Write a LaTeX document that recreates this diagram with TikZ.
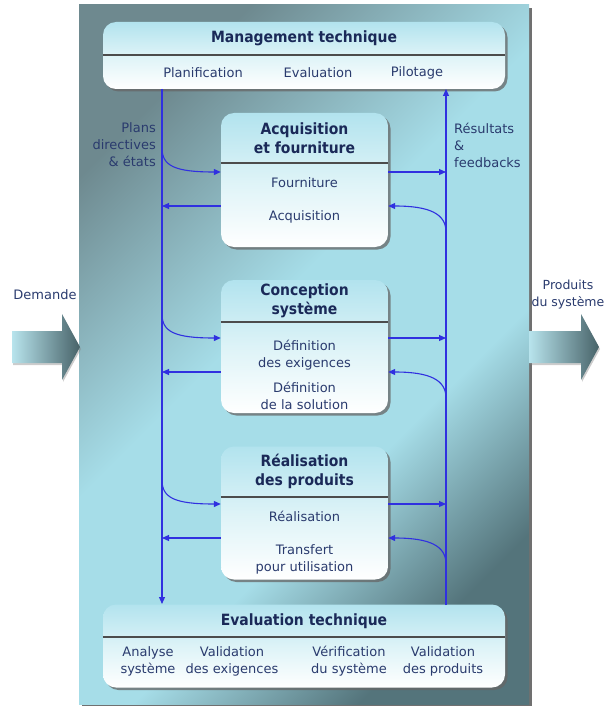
\documentclass[tikz,border=0pt]{standalone}
\usepackage{fontspec}
\setmainfont{DejaVu Sans}
\newfontfamily\condfont{DejaVu Sans Condensed}
\usetikzlibrary{arrows.meta,shadows}

\definecolor{paneldark}{HTML}{54747B}
\definecolor{panellight}{HTML}{A6DDE8}
\definecolor{boxtop}{HTML}{B2E3EE}
\definecolor{boxmid}{HTML}{DDF3F7}
\definecolor{navy}{HTML}{1A2958}
\definecolor{textblue}{HTML}{2A3B6E}
\definecolor{flowblue}{HTML}{3030E0}

\pgfdeclareverticalshading{panelshade}{100bp}{color(0bp)=(paneldark);
  color(25bp)=(paneldark); color(39bp)=(panellight); color(55bp)=(panellight);
  color(75bp)=(paneldark!85!white); color(100bp)=(paneldark!85!white)}

\tikzset{
  panel/.style={draw=none, inner sep=0pt, shading=panelshade, shading angle=45,
    drop shadow={shadow xshift=3pt, shadow yshift=-3pt, fill=black!70, opacity=.8}},
  box/.style={rounded corners=13pt, inner sep=0pt, top color=boxtop, bottom color=white,
    middle color=boxmid,
    drop shadow={shadow xshift=2.5pt, shadow yshift=-2.5pt, fill=black!60, opacity=.75}},
  title/.style={font=\condfont\bfseries\fontsize{15.5}{19}\selectfont, text=navy,
    align=center, inner sep=0pt},
  item/.style={font=\fontsize{13}{17}\selectfont, text=textblue, align=center, inner sep=0pt},
  flow/.style={draw=flowblue, line width=1.1pt, -{Triangle[length=7pt,width=6pt]}},
  rule/.style={draw=black!70, line width=1.3pt},
  bigarrow/.style={left color=panellight!80!white, right color=paneldark!85!black,
    drop shadow={shadow xshift=1pt, shadow yshift=-2pt, fill=black!50, opacity=.4}}
}

\begin{document}
\begin{tikzpicture}[x=1pt,y=-1pt]
  \useasboundingbox (0,0) rectangle (609,706);

  % background panel
  \node[panel, minimum width=450pt, minimum height=699pt] (panel) at (304,354.5) {};

  % in and out
  \path[bigarrow] (12,331) -- (62,331) -- (62,314) -- (80,347) -- (62,380)
    -- (62,363) -- (12,363) -- cycle;
  \path[bigarrow] (529,331) -- (581,331) -- (581,314) -- (599,347) -- (581,380)
    -- (581,363) -- (529,363) -- cycle;

  \begin{scope}[every node/.style={box}]
    \node[minimum width=402pt, minimum height=67pt] (mgmt) at (304,55.5) {};
    \node[minimum width=167pt, minimum height=134pt] (acq) at (304.5,180) {};
    \node[minimum width=167pt, minimum height=133pt] (con) at (304.5,346.5) {};
    \node[minimum width=167pt, minimum height=133pt] (rea) at (304.5,513) {};
    \node[minimum width=402pt, minimum height=83pt] (eval) at (304,646) {};
  \end{scope}

  \draw[rule] (mgmt.west |- 0,55) -- (mgmt.east |- 0,55);
  \draw[rule] (acq.west |- 0,163) -- (acq.east |- 0,163);
  \draw[rule] (con.west |- 0,322) -- (con.east |- 0,322);
  \draw[rule] (rea.west |- 0,497) -- (rea.east |- 0,497);
  \draw[rule] (eval.west |- 0,637) -- (eval.east |- 0,637);

  \begin{scope}[every node/.style={title}]
    \node (mgmt-t) at (304,38) {Management technique};
    \node (acq-t) at (304.5,138) {Acquisition\\et fourniture};
    \node (con-t) at (304.5,301) {Conception\\système};
    \node (rea-t) at (304.5,471) {Réalisation\\des produits};
    \node (eval-t) at (304,621) {Evaluation technique};
  \end{scope}

  \begin{scope}[every node/.style={item}]
    \node (plan) at (203,73) {Planification};
    \node (evalm) at (318,73) {Evaluation};
    \node (pilot) at (417,73) {Pilotage};
    \node (fourn) at (304.5,183) {Fourniture};
    \node (acqu) at (304.5,217) {Acquisition};
    \node (defex) at (304.5,355) {Définition\\des exigences};
    \node (defsol) at (304.5,396) {Définition\\de la solution};
    \node (real) at (304.5,516) {Réalisation};
    \node (transf) at (304.5,559) {Transfert\\pour utilisation};
    \node (analyse) at (148,661) {Analyse\\système};
    \node (valex) at (232,661) {Validation\\des exigences};
    \node (verif) at (349,661) {Vérification\\du système};
    \node (valprod) at (443,661) {Validation\\des produits};
    \node[align=right, anchor=east] (plans) at (156,145) {Plans\\directives\\\& états};
    \node[align=left, anchor=west] (results) at (454,145) {Résultats\\\&\\feedbacks};
    \node (demande) at (45,295) {Demande};
    \node[font=\fontsize{12.5}{17}\selectfont] (produits) at (568,294.5) {Produits\\du système};
  \end{scope}

  % flows
  \coordinate (ltop) at (162,89);
  \coordinate (lbot) at (162,604);
  \coordinate (rtop) at (446,89);
  \coordinate (rbot) at (446,605);
  \draw[flow] (ltop) -- (lbot);
  \draw[flow] (rbot) -- (rtop);

  \foreach \b/\yi/\yo in {acq/172/206, con/338/372, rea/504/538}{
    \coordinate (\b-l) at (162,\yi-24);
    \coordinate (\b-lo) at (162,\yo);
    \coordinate (\b-r) at (446,\yi);
    \coordinate (\b-ro) at (446,\yo+26);
    \draw[flow] (\b-l) .. controls (162,\yi-6) and (175,\yi) .. (\b.west |- 0,\yi);
    \draw[flow] (\b.west |- 0,\yo) -- (\b-lo);
    \draw[flow] (\b.east |- 0,\yi) -- (\b-r);
    \draw[flow] (\b-ro) .. controls (446,\yo+8) and (430,\yo) .. (\b.east |- 0,\yo);
  }
\end{tikzpicture}
\end{document}
